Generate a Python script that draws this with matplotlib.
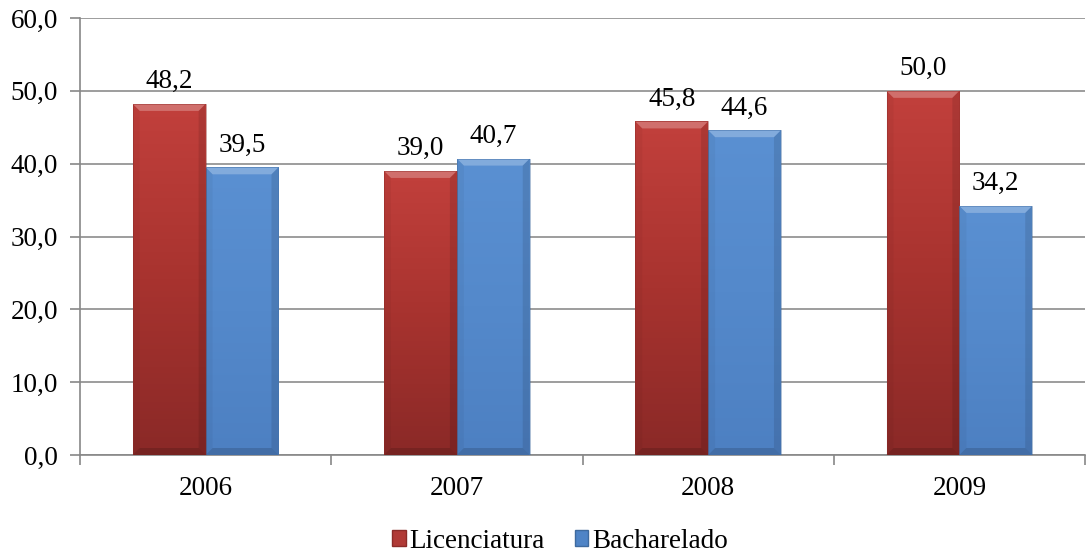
import matplotlib
matplotlib.use("Agg")
import matplotlib.pyplot as plt
import numpy as np
from matplotlib.colors import LinearSegmentedColormap
from matplotlib.patches import Rectangle, Polygon

years = ["2006", "2007", "2008", "2009"]
licenciatura = [48.2, 39.0, 45.8, 50.0]
bacharelado = [39.5, 40.7, 44.6, 34.2]
series_names = ["Licenciatura", "Bacharelado"]
yticks = [0, 10, 20, 30, 40, 50, 60]

plt.rcParams['font.family'] = ['Liberation Serif', 'DejaVu Serif']
FS = 19.5

fig = plt.figure(figsize=(10.87, 5.54), dpi=100)
ax = fig.add_axes([80/1087, (554-455)/554, (1085-80)/1087, (455-18)/554])

x = np.arange(len(years))
w = 0.29
red_cmap = LinearSegmentedColormap.from_list("r", ["#8A2927", "#A8332F", "#C2403C"])
blue_cmap = LinearSegmentedColormap.from_list("b", ["#4D80C2", "#5489CB", "#5A90D2"])
grad = np.linspace(0, 1, 256).reshape(-1, 1)

# bevel sizes in data units (approx 7 px)
bx = 7 / 251.0
by = 7 / 7.28

def draw_bars(vals, offset, cmap, face, edge):
    bars = ax.bar(x + offset, vals, width=w, color=face, edgecolor='none', zorder=3)
    for b in bars:
        x0, y0 = b.get_x(), b.get_y()
        bw, bh = b.get_width(), b.get_height()
        x1, y1 = x0 + bw, y0 + bh
        im = ax.imshow(grad, extent=[x0, x1, y0, y1], origin='lower',
                       cmap=cmap, aspect='auto', zorder=3.5)
        im.set_clip_path(b)
        # bevels
        ax.add_patch(Polygon([(x0, y1), (x1, y1), (x1 - bx, y1 - by), (x0 + bx, y1 - by)],
                             closed=True, facecolor='white', alpha=0.25, edgecolor='none', zorder=4))
        ax.add_patch(Polygon([(x0, y0), (x0 + bx, y0 + by), (x0 + bx, y1 - by), (x0, y1)],
                             closed=True, facecolor='black', alpha=0.04, edgecolor='none', zorder=4))
        ax.add_patch(Polygon([(x1, y0), (x1 - bx, y0 + by), (x1 - bx, y1 - by), (x1, y1)],
                             closed=True, facecolor='black', alpha=0.10, edgecolor='none', zorder=4))
        ax.add_patch(Polygon([(x0, y0), (x1, y0), (x1 - bx, y0 + by), (x0 + bx, y0 + by)],
                             closed=True, facecolor='black', alpha=0.14, edgecolor='none', zorder=4))
        ax.add_patch(Rectangle((x0, y0), bw, bh, facecolor='none',
                               edgecolor=edge, linewidth=0.6, alpha=0.5, zorder=4))
    return bars

draw_bars(licenciatura, -w/2, red_cmap, "#C0504D", "#8B2B28")
draw_bars(bacharelado, w/2, blue_cmap, "#4F81BD", "#3E6A9E")

for vals, off in [(licenciatura, -w/2), (bacharelado, w/2)]:
    for xi, v in zip(x, vals):
        ax.annotate(f"{v:.1f}".replace(".", ","), (xi + off, v), xytext=(0, 7),
                    textcoords='offset points', ha='center', va='bottom', fontsize=FS)

ax.set_xlim(-0.5, len(years) - 0.5)
ax.set_ylim(0, 60)
ax.set_yticks(yticks)
ax.set_yticklabels([f"{t:.1f}".replace(".", ",") for t in yticks], fontsize=FS)
ax.set_xticks(x)
ax.set_xticklabels(years, fontsize=FS)
ax.set_xticks(np.arange(len(years) + 1) - 0.5, minor=True)
ax.tick_params(axis='x', which='major', length=0, pad=15)
ax.tick_params(axis='x', which='minor', length=7, color='#888888', width=1.2)
ax.tick_params(axis='y', length=7, color='#888888', width=1.2, pad=9)

ax.yaxis.grid(True, color='#8C8C8C', linewidth=1.2, zorder=0)
ax.set_axisbelow(True)
for s in ['top', 'right']:
    ax.spines[s].set_visible(False)
for s in ['left', 'bottom']:
    ax.spines[s].set_color('#888888')
    ax.spines[s].set_linewidth(1.2)

handles = [Rectangle((0, 0), 1, 1, facecolor="#B03A36", edgecolor="#8B2B28"),
           Rectangle((0, 0), 1, 1, facecolor="#4F84C6", edgecolor="#3E6A9E")]
fig.legend(handles, series_names, loc='center', bbox_to_anchor=(560/1087, 1 - 541/554),
           ncol=2, frameon=False, fontsize=FS, handlelength=0.5, handleheight=0.5,
           handletextpad=0.15, columnspacing=1.1, borderpad=0.2)

fig.savefig("out.png", dpi=100)
